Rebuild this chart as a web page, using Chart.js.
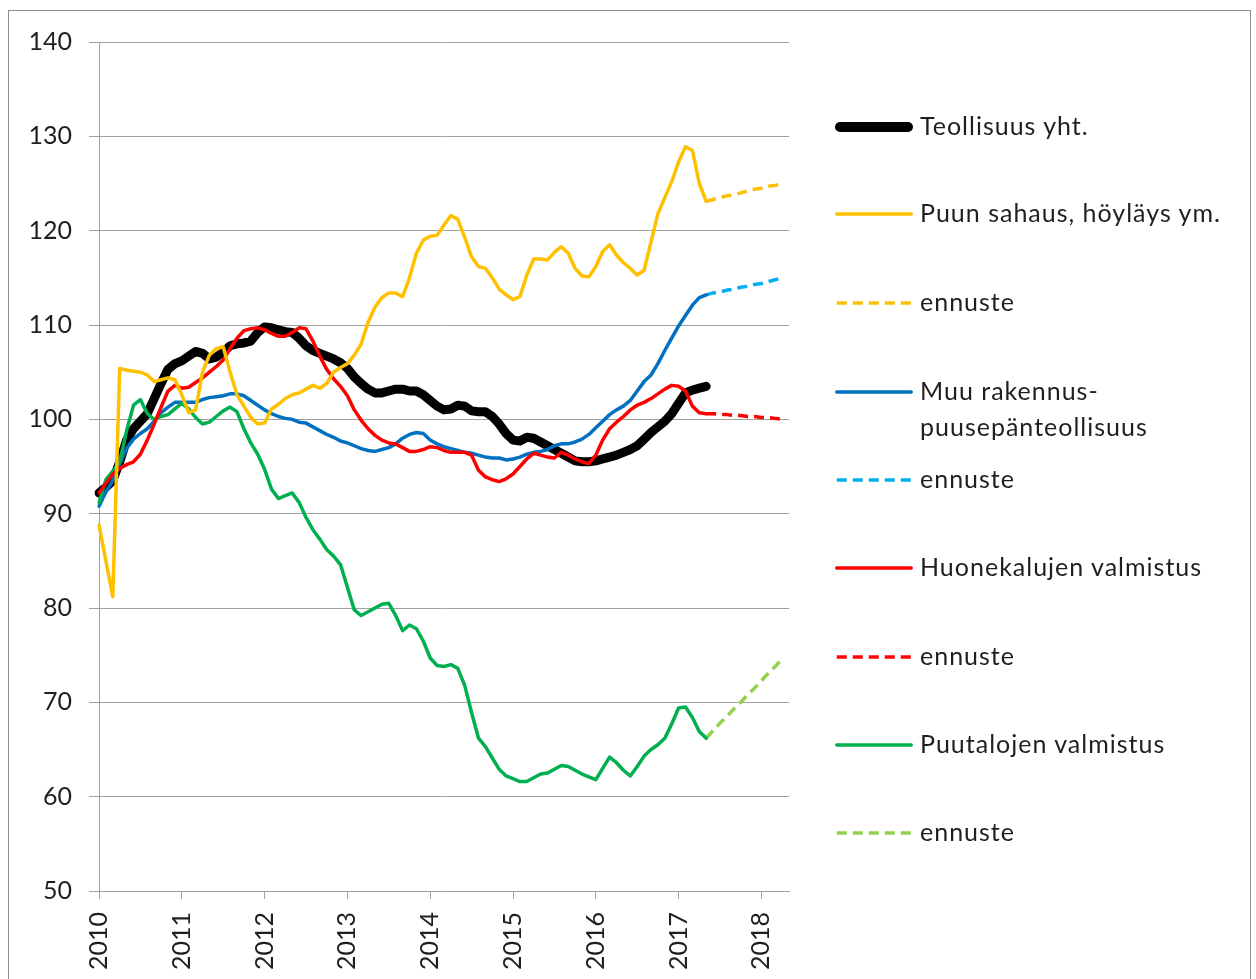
<!DOCTYPE html>
<html>
<head>
<meta charset="utf-8">
<script src="https://cdn.jsdelivr.net/npm/chart.js@4.4.1/dist/chart.umd.min.js"></script>
<style>
  body { margin: 0; background: #fff; font-family: Lato, 'Open Sans', sans-serif; }
  #wrap { position: relative; width: 1256px; height: 979px; overflow: hidden; background: #fff; }
  #frame { position: absolute; left: 8px; top: 10px; width: 1241px; height: 1000px; border: 1px solid #8c8c8c; }
  canvas { position: absolute; left: 0; top: 0; }
  .item { position: absolute; left: 835px; height: 0; }
  .item svg { position: absolute; left: 0; top: -6px; }
  .item .txt { position: absolute; left: 85px; top: -20px; font-size: 25px; line-height: 36px; letter-spacing: 1px; color: #1f1f1f; white-space: nowrap; }
</style>
</head>
<body>
<div id="wrap">
  <div id="frame"></div>
  <canvas id="chart" width="1256" height="979"></canvas>
  <div id="legend"></div>
</div>
<script>
const YEARS = ['2010', '2011', '2012', '2013', '2014', '2015', '2016', '2017', '2018'];
const MONTH_NUMS = ['01', '02', '03', '04', '05', '06', '07', '08', '09', '10', '11', '12'];
// Jan 2010 .. May 2018 (101 categories), actual data ends May 2017
const MONTHS = YEARS.flatMap(y => MONTH_NUMS.map(m => y + '-' + m)).slice(0, 101);
const FORECAST_START = 88;

// Teollisuus yht.
const TOTAL = [
  92.2, 92.8, 93.5, 95.5, 97.8, 99.0, 99.8, 100.6, 102.2, 103.8, 105.3, 105.9,
  106.2, 106.7, 107.2, 107.0, 106.4, 106.6, 107.1, 107.8, 108.0, 108.1, 108.3, 109.2,
  109.8, 109.7, 109.5, 109.3, 109.2, 108.6, 107.8, 107.3, 107.0, 106.7, 106.4, 106.0,
  105.4, 104.5, 103.8, 103.2, 102.8, 102.8, 103.0, 103.2, 103.2, 103.0, 103.0, 102.6,
  102.0, 101.4, 101.0, 101.1, 101.5, 101.4, 100.9, 100.8, 100.8, 100.3, 99.5, 98.5,
  97.8, 97.7, 98.1, 98.0, 97.6, 97.2, 96.8, 96.4, 96.0, 95.6, 95.5, 95.5,
  95.6, 95.8, 96.0, 96.2, 96.5, 96.8, 97.2, 97.9, 98.6, 99.2, 99.8, 100.6,
  101.7, 102.8, 103.1, 103.3, 103.5
];

// Puun sahaus, höyläys ym.
const SAWMILL = [
  88.8, 85.0, 81.2, 105.4, 105.2, 105.1, 105.0, 104.7, 104.0, 104.2, 104.4, 104.2,
  102.6, 100.7, 101.0, 105.0, 106.8, 107.5, 107.7, 105.0, 102.6, 101.4, 100.2, 99.5,
  99.6, 101.1, 101.6, 102.2, 102.6, 102.8, 103.2, 103.6, 103.3, 103.8, 105.0, 105.5,
  105.9, 106.8, 108.0, 110.3, 111.9, 112.9, 113.4, 113.4, 113.0, 115.0, 117.6, 119.0,
  119.4, 119.5, 120.6, 121.6, 121.2, 119.3, 117.2, 116.2, 116.0, 115.0, 113.8, 113.2,
  112.7, 113.0, 115.3, 117.0, 117.0, 116.9, 117.7, 118.3, 117.6, 116.0, 115.2, 115.1,
  116.2, 117.8, 118.5, 117.4, 116.6, 116.0, 115.3, 115.8, 118.8, 121.8, 123.5, 125.2,
  127.3, 128.9, 128.5, 125.0, 123.1
];
const SAWMILL_FC = [123.1, 123.3, 123.5, 123.7, 123.8, 124.0, 124.2, 124.4, 124.5, 124.7, 124.8, 125.0];

// Muu rakennuspuusepänteollisuus
const JOINERY = [
  90.8, 92.3, 93.5, 95.3, 96.9, 97.9, 98.5, 99.0, 99.8, 100.7, 101.3, 101.8,
  101.8, 101.8, 101.8, 102.1, 102.3, 102.4, 102.5, 102.7, 102.7, 102.5, 102.0, 101.5,
  101.0, 100.6, 100.3, 100.1, 100.0, 99.7, 99.6, 99.2, 98.8, 98.4, 98.1, 97.7,
  97.5, 97.2, 96.9, 96.7, 96.6, 96.8, 97.0, 97.4, 98.0, 98.4, 98.6, 98.5,
  97.8, 97.4, 97.1, 96.9, 96.7, 96.5, 96.4, 96.2, 96.0, 95.9, 95.9, 95.7,
  95.8, 96.0, 96.3, 96.5, 96.6, 96.8, 97.2, 97.4, 97.4, 97.6, 97.9, 98.4,
  99.1, 99.8, 100.5, 101.0, 101.4, 102.0, 103.0, 104.0, 104.7, 105.9, 107.3, 108.6,
  109.9, 111.0, 112.1, 112.9, 113.2
];
const JOINERY_FC = [113.2, 113.4, 113.5, 113.7, 113.8, 114.0, 114.1, 114.3, 114.4, 114.6, 114.8, 115.0];

// Huonekalujen valmistus
const FURNITURE = [
  92.2, 93.2, 94.2, 94.8, 95.2, 95.5, 96.3, 97.8, 99.5, 101.3, 103.0, 103.6,
  103.3, 103.4, 103.9, 104.4, 105.0, 105.6, 106.3, 107.5, 108.6, 109.4, 109.6, 109.7,
  109.5, 109.1, 108.8, 108.8, 109.2, 109.7, 109.6, 108.3, 106.7, 105.3, 104.3, 103.5,
  102.5, 101.0, 99.9, 99.0, 98.3, 97.8, 97.5, 97.4, 97.0, 96.6, 96.6, 96.8,
  97.1, 97.0, 96.7, 96.5, 96.5, 96.5, 96.2, 94.6, 93.9, 93.6, 93.4, 93.7,
  94.2, 95.0, 95.8, 96.4, 96.2, 96.0, 95.9, 96.5, 96.2, 95.8, 95.5, 95.3,
  96.2, 97.8, 99.0, 99.7, 100.3, 101.0, 101.5, 101.8, 102.2, 102.7, 103.2, 103.6,
  103.5, 103.0, 101.4, 100.7, 100.6
];
const FURNITURE_FC = [100.6, 100.6, 100.5, 100.5, 100.4, 100.4, 100.3, 100.3, 100.2, 100.2, 100.1, 100.0];

// Puutalojen valmistus
const HOUSES = [
  91.2, 93.6, 94.5, 95.5, 98.8, 101.5, 102.1, 100.6, 100.0, 100.3, 100.5, 101.1,
  101.7, 101.1, 100.2, 99.5, 99.7, 100.3, 100.9, 101.3, 100.8, 99.0, 97.5, 96.3,
  94.7, 92.6, 91.6, 91.9, 92.2, 91.2, 89.6, 88.3, 87.3, 86.2, 85.5, 84.6,
  82.2, 79.8, 79.2, 79.6, 80.0, 80.4, 80.5, 79.2, 77.6, 78.2, 77.8, 76.5,
  74.7, 73.9, 73.8, 74.0, 73.6, 71.8, 68.9, 66.2, 65.3, 64.1, 62.9, 62.2,
  61.9, 61.6, 61.6, 62.0, 62.4, 62.5, 62.9, 63.3, 63.2, 62.8, 62.4, 62.1,
  61.8, 63.0, 64.2, 63.6, 62.8, 62.2, 63.2, 64.3, 65.0, 65.5, 66.2, 67.7,
  69.4, 69.5, 68.4, 66.9, 66.2
];
const HOUSES_FC = [66.2, 67.0, 67.8, 68.5, 69.3, 70.0, 70.8, 71.5, 72.3, 73.1, 73.8, 74.6];

const Y_TICKS = { min: 50, max: 140, step: 10 };

const GRID = '#a0a0a0';
const TEXT = '#1f1f1f';
const FONT = { family: 'Lato, "Open Sans", sans-serif', size: 25 };

function fc(values) {
  return Array(FORECAST_START).fill(null).concat(values);
}

// legend order follows the reference; order = draw stacking (higher is further back)
const SERIES = [
  { label: 'Teollisuus yht.', data: TOTAL, color: '#000000', width: 9, order: 10 },
  { label: 'Puun sahaus, höyläys ym.', data: SAWMILL, color: '#FFC000', width: 3.5, order: 1 },
  { label: 'ennuste', data: fc(SAWMILL_FC), color: '#FFC000', width: 3.5, dash: true, order: 1 },
  { label: 'Muu rakennus-<br>puusepänteollisuus', data: JOINERY, color: '#0070C0', width: 3.5, order: 4 },
  { label: 'ennuste', data: fc(JOINERY_FC), color: '#00B0F0', width: 3.5, dash: true, order: 4 },
  { label: 'Huonekalujen valmistus', data: FURNITURE, color: '#FF0000', width: 3.5, order: 2 },
  { label: 'ennuste', data: fc(FURNITURE_FC), color: '#FF0000', width: 3.5, dash: true, order: 2 },
  { label: 'Puutalojen valmistus', data: HOUSES, color: '#00B050', width: 3.5, order: 3 },
  { label: 'ennuste', data: fc(HOUSES_FC), color: '#92D050', width: 3.5, dash: true, order: 3 },
];

const LEGEND_Y = [127, 214, 303, 392, 480, 568, 657, 745, 833];

const datasets = SERIES.map(s => ({
  label: s.label.replace('<br>', ''),
  data: s.data,
  borderColor: s.color,
  backgroundColor: s.color,
  borderWidth: s.width,
  borderDash: s.dash ? [10, 6] : [],
  borderJoinStyle: 'round',
  borderCapStyle: s.dash ? 'butt' : 'round',
  pointRadius: 0,
  tension: 0,
  fill: false,
  order: s.order,
}));

new Chart(document.getElementById('chart'), {
  type: 'line',
  data: { labels: MONTHS, datasets },
  options: {
    responsive: false,
    animation: false,
    devicePixelRatio: 1,
    layout: { padding: { left: 0, top: 42, right: 467, bottom: 0 } },
    plugins: { legend: { display: false }, tooltip: { enabled: false } },
    scales: {
      x: {
        type: 'category',
        offset: false,
        ticks: {
          autoSkip: false,
          minRotation: 90,
          maxRotation: 90,
          padding: 13,
          color: TEXT,
          font: FONT,
          callback: (v, i) => (i % 12 === 0 ? MONTHS[i].slice(0, 4) : ''),
        },
        grid: {
          drawOnChartArea: false,
          tickLength: 8,
          tickColor: ctx => (ctx.index % 12 === 0 ? GRID : 'rgba(0,0,0,0)'),
          color: GRID,
        },
        border: { color: GRID },
        afterFit(scale) { scale.height = 88; },
      },
      y: {
        min: Y_TICKS.min,
        max: Y_TICKS.max,
        ticks: { stepSize: Y_TICKS.step, padding: 17, color: TEXT, font: FONT },
        grid: { color: GRID, lineWidth: 1, tickLength: 10 },
        border: { color: GRID },
        afterFit(scale) { scale.width = 99; },
      },
    },
  },
});

// legend as html so the labels stay real text
const legend = document.getElementById('legend');
SERIES.forEach((s, i) => {
  const item = document.createElement('div');
  item.className = 'item';
  item.style.top = LEGEND_Y[i] + 'px';
  const dash = s.dash ? 'stroke-dasharray="10 6"' : '';
  const cap = s.dash ? 'butt' : 'round';
  const w = s.width === 9 ? 10 : s.width;
  item.innerHTML = `
    <svg width="82" height="12"><line x1="${w / 2}" y1="6" x2="${78 - w / 2}" y2="6" stroke="${s.color}" stroke-width="${w}" stroke-linecap="${cap}" ${dash}/></svg>
    <div class="txt">${s.label}</div>`;
  legend.appendChild(item);
});
</script>
</body>
</html>
